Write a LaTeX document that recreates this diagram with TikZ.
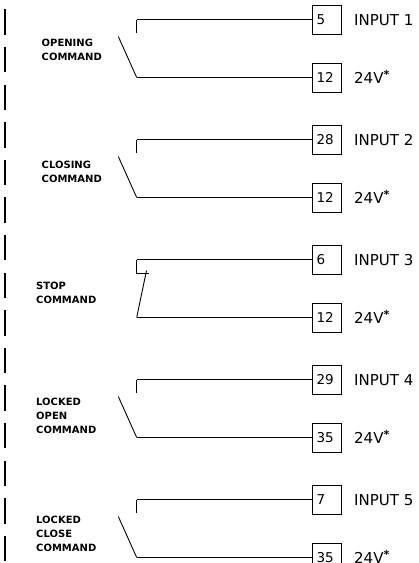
\documentclass[tikz,border=0pt]{standalone}
\usepackage{fontspec}
\setmainfont{DejaVu Sans}
\begin{document}
\begin{tikzpicture}[x=1pt,y=-1pt,
  wire/.style={line width=0.9pt},
  termbox/.style={draw, line width=0.9pt, inner sep=0pt, minimum width=29pt,
    minimum height=29pt, text height=9.8pt, text depth=0pt, font=\fontsize{13.5}{14}\selectfont},
  inlabel/.style={inner sep=0pt, anchor=base west, font=\fontsize{15}{16}\selectfont},
  cmdlabel/.style={inner sep=0pt, anchor=west, align=left, font=\fontsize{10}{14}\selectfont\bfseries},
  dashline/.style={line width=1.4pt, dash pattern=on 25.5pt off 12.1pt}]
\useasboundingbox (0,0) rectangle (419,563);
\clip (0,0) rectangle (419,563);
% left dashed boundary
\coordinate (d1) at (5,9.3);
\coordinate (d2) at (5,580);
\draw[dashline] (d1) -- (d2);
% terminal blocks
\foreach \k/\nt/\nb/\ni in {0/5/12/1, 1/28/12/2, 2/6/12/3, 3/29/35/4, 4/7/35/5} {
  \pgfmathsetmacro\yt{19.5+120*\k}
  \pgfmathsetmacro\yb{77.5+120*\k}
  \node[termbox] (t\k) at (326.5,\yt) {\makebox[20pt][l]{\nt}};
  \node[termbox] (b\k) at (326.5,\yb) {\makebox[20pt][l]{\nb}};
  \node[inlabel] (i\k) at (354,\yt+5.5) {INPUT \ni};
  \node[inlabel] (v\k) at (354,\yb+5.5) {24V\raisebox{4.5pt}{\fontsize{11}{11}\selectfont\bfseries *}};
  \coordinate (ct\k) at (136.7,\yt);
  \coordinate (cb\k) at (136.7,\yb);
  \draw[wire] (ct\k) -- (t\k.west);
  \draw[wire] (cb\k) -- (b\k.west);
}
% normally open contacts
\foreach \k in {0,1,3,4} {
  \pgfmathsetmacro\yt{19.5+120*\k}
  \coordinate (st\k) at (136.7,\yt+13.5);
  \coordinate (bl\k) at (118.3,\yt+17);
  \draw[wire] (ct\k) -- (st\k);
  \draw[wire] (bl\k) -- (cb\k);
}
% normally closed contact (stop)
\coordinate (nc1) at (136.7,273.5);
\coordinate (nc2) at (148.5,273.5);
\coordinate (nc3) at (146.5,270.5);
\draw[wire] (ct2) -- (nc1) -- (nc2);
\draw[wire] (nc3) -- (cb2);
% command labels
\node[cmdlabel] (l0) at (41.5,50) {OPENING\\COMMAND};
\node[cmdlabel] (l1) at (41.5,172) {CLOSING\\COMMAND};
\node[cmdlabel] (l2) at (36,293) {STOP\\COMMAND};
\node[cmdlabel] (l3) at (36,416) {LOCKED\\OPEN\\COMMAND};
\node[cmdlabel] (l4) at (36,534) {LOCKED\\CLOSE\\COMMAND};
\end{tikzpicture}
\end{document}
